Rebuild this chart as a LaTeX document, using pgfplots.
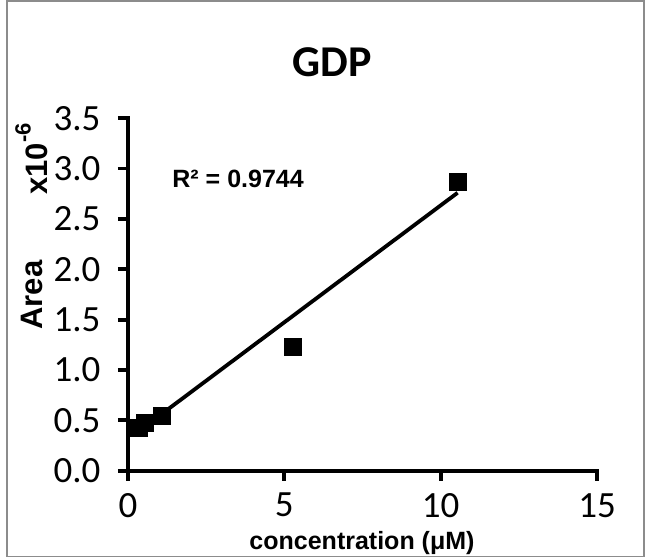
\documentclass[border=0pt]{standalone}
\usepackage{pgfplots}
\pgfplotsset{compat=1.18}
\usepackage{fontspec}
\setmainfont{Carlito}
\newfontfamily\arialfont{Liberation Sans}
\begin{document}
\begin{tikzpicture}
\useasboundingbox (-128bp,-87.3bp) rectangle (521bp,470.7bp);
\draw[black!45, line width=1.2bp] (-121bp,-85.5bp) rectangle (516bp,469.7bp);
\begin{axis}[
  anchor=origin, at={(0,0)},
  x=31.27bp, y=100.7bp,
  xmin=0, xmax=15, ymin=0, ymax=3.5,
  axis lines*=left,
  axis line style={line width=3.8bp, line cap=rect, black},
  xtick={0,5,10,15},
  ytick={0,0.5,1,1.5,2,2.5,3,3.5},
  tick align=outside,
  major tick length=10bp,
  every tick/.style={black, line width=3.8bp},
  tick label style={font=\fontsize{37bp}{42bp}\selectfont},
  /pgf/number format/assume math mode=true,
  yticklabel style={xshift=-14bp, /pgf/number format/.cd, fixed, fixed zerofill, precision=1},
  xticklabel style={yshift=-9bp},
  clip=false,
]
\addplot[black, line width=3.8bp, no marks] coordinates {(0.16,0.35) (10.54,2.76)};
\addplot[only marks, mark=square*, mark size=8.5bp, black, mark options={draw=none}] coordinates {
  (0.34,0.424) (0.54,0.479) (1.07,0.548) (5.26,1.235) (10.54,2.874)};
\node[font=\fontsize{44bp}{50bp}\selectfont\bfseries] at (axis cs:6.52,4.06) {GDP};
\node[font=\arialfont\fontsize{25bp}{30bp}\selectfont\bfseries] at (axis cs:3.52,2.90) {R² = 0.9744};
\end{axis}
\node[rotate=90, font=\arialfont\fontsize{31bp}{36bp}\selectfont\bfseries] at (-96.5bp,175.7bp) {Area};
\node[rotate=90, font=\arialfont\fontsize{31bp}{36bp}\selectfont\bfseries] at (-96.5bp,311.7bp) {x10\raisebox{0.55em}{\fontsize{22bp}{26bp}\selectfont -6}};
\node[font=\arialfont\fontsize{25bp}{30bp}\selectfont\bfseries] at (234bp,-72.3bp) {concentration (μM)};
\end{tikzpicture}
\end{document}
